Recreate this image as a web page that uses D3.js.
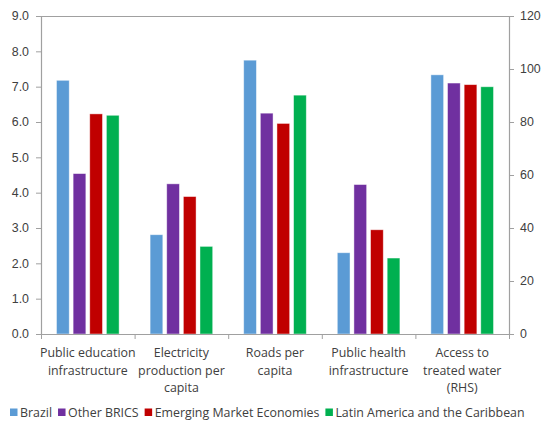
<!DOCTYPE html>
<html>
<head>
<meta charset="utf-8">
<script src="https://cdn.jsdelivr.net/npm/d3@7"></script>
<style>
  html, body { margin: 0; padding: 0; background: #fff; }
  svg { display: block; font-family: "Open Sans", "Noto Sans", sans-serif; }
</style>
</head>
<body>
<svg id="chart" width="544" height="423"></svg>
<script>
// Infrastructure indicators: Brazil vs. peer groups (last group on right-hand scale)
const categories = [
  ["Public education", "infrastructure"],
  ["Electricity", "production per", "capita"],
  ["Roads per", "capita"],
  ["Public health", "infrastructure"],
  ["Access to", "treated water", "(RHS)"]
];
const seriesNames = ["Brazil", "Other BRICS", "Emerging Market Economies", "Latin America and the Caribbean"];
const seriesColors = ["#5B9BD5", "#7030A0", "#C00000", "#00B050"];
const brazil     = [7.18, 2.81, 7.75, 2.30, 97.8];
const otherBrics = [4.54, 4.25, 6.25, 4.23, 94.7];
const eme        = [6.23, 3.89, 5.96, 2.95, 94.1];
const latam      = [6.19, 2.48, 6.76, 2.15, 93.3];
const leftTicks  = [0, 1, 2, 3, 4, 5, 6, 7, 8, 9];
const rightTicks = [0, 20, 40, 60, 80, 100, 120];
const rhsIndex = 4;

const seriesValues = [brazil, otherBrics, eme, latam];

const svg = d3.select("#chart");
const plot = { left: 41, right: 509, top: 16, bottom: 334 };
const axisColor = "#A0A0A0";
const textColor = "#404040";
const fontSize = "12.4px";

const keys = categories.map((c, i) => i);
const x0 = d3.scaleBand().domain(keys).range([plot.left, plot.right]).paddingInner(0).paddingOuter(0);
const groupInset = 15.5;
const x1 = d3.scaleBand().domain(d3.range(seriesNames.length))
  .range([groupInset, x0.bandwidth() - groupInset]).paddingInner(0.235).paddingOuter(0);
const yL = d3.scaleLinear().domain([0, 9]).range([plot.bottom, plot.top]);
const yR = d3.scaleLinear().domain([0, 120]).range([plot.bottom, plot.top]);

// Bars
const rows = [];
keys.forEach(ci => seriesValues.forEach((vals, si) => rows.push({ ci, si, v: vals[ci] })));
svg.append("g").selectAll("rect").data(rows).join("rect")
  .attr("x", d => x0(d.ci) + x1(d.si))
  .attr("width", x1.bandwidth())
  .attr("y", d => (d.ci === rhsIndex ? yR : yL)(d.v))
  .attr("height", d => plot.bottom - (d.ci === rhsIndex ? yR : yL)(d.v))
  .attr("fill", d => seriesColors[d.si])
  .attr("stroke", "#ffffff")
  .attr("stroke-opacity", 0.55)
  .attr("stroke-width", 0.8);

// Plot frame: top border line
svg.append("line")
  .attr("x1", plot.left).attr("x2", plot.right)
  .attr("y1", plot.top + 0.5).attr("y2", plot.top + 0.5)
  .attr("stroke", axisColor).attr("stroke-width", 1);

function styleAxis(g) {
  g.selectAll(".domain").attr("stroke", axisColor).attr("stroke-width", 1.2);
  g.selectAll(".tick line").attr("stroke", axisColor);
  g.selectAll("text").attr("fill", textColor).attr("font-size", fontSize);
}

// Left axis
svg.append("g")
  .attr("transform", `translate(${plot.left},0)`)
  .call(d3.axisLeft(yL).tickValues(leftTicks).tickFormat(d3.format(".1f")).tickSize(5).tickSizeOuter(5).tickPadding(7))
  .call(styleAxis);

// Right axis
svg.append("g")
  .attr("transform", `translate(${plot.right},0)`)
  .call(d3.axisRight(yR).tickValues(rightTicks).tickFormat(d3.format("d")).tickSize(5).tickSizeOuter(5).tickPadding(6))
  .call(styleAxis);

// Bottom axis with tick marks at category boundaries
const xb = d3.scaleLinear().domain([0, categories.length]).range([plot.left, plot.right]);
svg.append("g")
  .attr("transform", `translate(0,${plot.bottom})`)
  .call(d3.axisBottom(xb).tickValues(d3.range(categories.length + 1)).tickFormat("").tickSize(5).tickSizeOuter(0))
  .call(styleAxis);

// Category labels (multi-line)
const labels = svg.append("g").attr("fill", textColor).attr("font-size", fontSize).attr("text-anchor", "middle");
categories.forEach((lines, ci) => {
  const cx = x0(ci) + x0.bandwidth() / 2;
  const t = labels.append("text").attr("x", cx).attr("y", 357);
  lines.forEach((ln, li) => t.append("tspan")
    .attr("x", cx)
    .attr("dy", li === 0 ? 0 : 17.5)
    .text(ln));
});

// Legend
const legend = svg.append("g").attr("font-size", fontSize).attr("fill", textColor);
let lx = 10;
const ly = 417;
seriesNames.forEach((name, i) => {
  legend.append("rect").attr("x", lx).attr("y", ly - 8.5).attr("width", 7.5).attr("height", 7.5).attr("fill", seriesColors[i]);
  const t = legend.append("text").attr("x", lx + 10).attr("y", ly).text(name);
  lx += 10 + t.node().getComputedTextLength() + 6;
});
</script>
</body>
</html>
